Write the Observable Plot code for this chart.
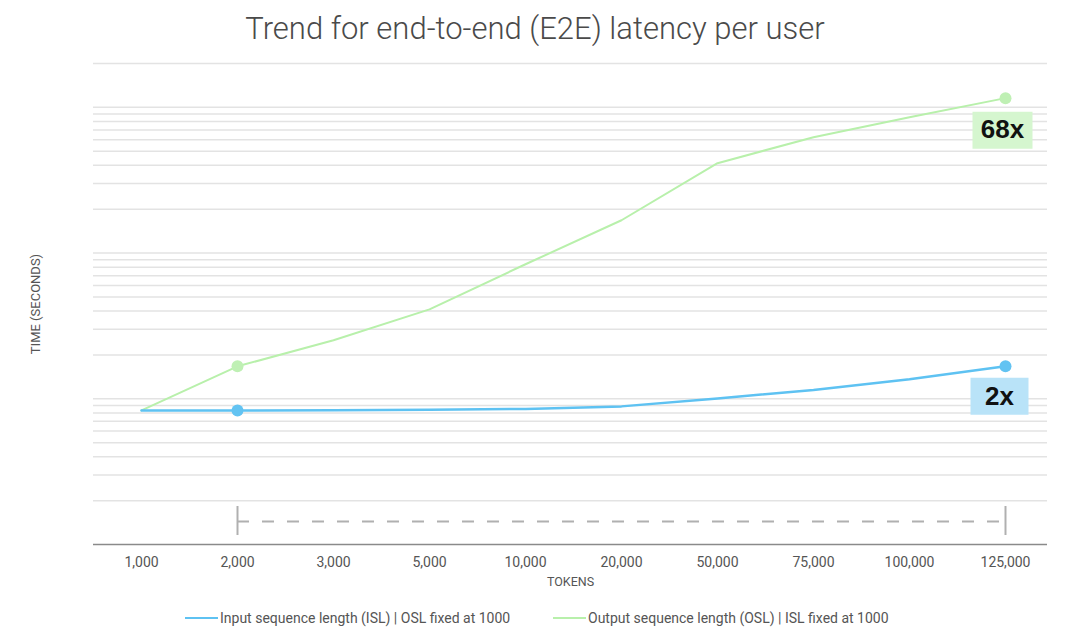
<!DOCTYPE html>
<html>
<head>
<meta charset="utf-8">
<script src="https://cdn.jsdelivr.net/npm/d3@7"></script>
<script src="https://cdn.jsdelivr.net/npm/@observablehq/plot@0.6"></script>
<style>
  html, body { margin: 0; padding: 0; background: #fff; }
  #wrap { position: relative; width: 1080px; height: 643px; overflow: hidden; font-family: Roboto, "Liberation Sans", sans-serif; }
  #title { position: absolute; top: 9px; left: 0; width: 1070px; text-align: center; font-size: 31px; font-weight: 300; color: #4a4a4a; line-height: 40px; }
  #chart { position: absolute; top: 52px; left: 0; }
  .leg { position: absolute; top: 610px; display: flex; align-items: center; font-size: 14px; color: #555; white-space: nowrap; }
  .sw { width: 33px; height: 2px; margin-right: 2px; }
</style>
</head>
<body>
<div id="wrap">
  <div id="title">Trend for end-to-end (E2E) latency per user</div>
  <div id="chart"></div>
  <div class="leg" style="left:185px"><span class="sw" style="background:#5ec2f2"></span><span id="leg1"></span></div>
  <div class="leg" style="left:553px"><span class="sw" style="background:#b8f0ab"></span><span id="leg2"></span></div>
</div>
<script>
// ---- data ----
const tokenLabels = ["1,000", "2,000", "3,000", "5,000", "10,000", "20,000", "50,000", "75,000", "100,000", "125,000"];
const islLatency = [8.32, 8.32, 8.35, 8.4, 8.52, 8.87, 10.06, 11.5, 13.6, 16.7];
const oslLatency = [8.32, 16.7, 25.2, 41.1, 83.8, 168, 414, 624, 856, 1157];
const seriesNames = ["Input sequence length (ISL) | OSL fixed at 1000", "Output sequence length (OSL) | ISL fixed at 1000"];
const markedTokens = ["2,000", "125,000"];
const ratioLabels = ["2x", "68x"];
const gridValues = [2, 3, 4, 5, 6, 7, 8, 9, 10, 20, 30, 40, 50, 60, 70, 80, 90, 100, 200, 300, 400, 500, 600, 700, 800, 900, 1000, 2000];
const axisTitleX = "TOKENS";
const axisTitleY = "TIME (SECONDS)";

const colors = { isl: "#5ec2f2", osl: "#b8f0ab", islDot: "#62c3f2", oslDot: "#bff0b4", islBox: "#b9e3f8", oslBox: "#d5f6cf" };

const isl = tokenLabels.map((t, i) => ({ tokens: t, value: islLatency[i] }));
const osl = tokenLabels.map((t, i) => ({ tokens: t, value: oslLatency[i] }));
const islMarked = isl.filter(d => markedTokens.includes(d.tokens));
const oslMarked = osl.filter(d => markedTokens.includes(d.tokens));
const islEnd = [{ ...isl[isl.length - 1], label: ratioLabels[0] }];
const oslEnd = [{ ...osl[osl.length - 1], label: ratioLabels[1] }];
const bracket = [{ from: markedTokens[0], to: markedTokens[1], base: 1 }];

document.getElementById("leg1").textContent = seriesNames[0];
document.getElementById("leg2").textContent = seriesNames[1];

function box(w, h) {
  return { draw(ctx) { ctx.moveTo(-w / 2, -h / 2); ctx.lineTo(w / 2, -h / 2); ctx.lineTo(w / 2, h / 2); ctx.lineTo(-w / 2, h / 2); ctx.closePath(); } };
}

const chart = Plot.plot({
  width: 1080,
  height: 545,
  marginTop: 11,
  marginBottom: 53,
  marginLeft: 93,
  marginRight: 33,
  style: { fontFamily: "Roboto, 'Liberation Sans', sans-serif", background: "#fff" },
  x: { type: "point", domain: tokenLabels, range: [140, 1006], padding: 0 },
  y: { type: "log", domain: [1, 2000] },
  marks: [
    Plot.ruleY(gridValues, { stroke: "#e3e3e3", strokeWidth: 1.5 }),
    Plot.ruleY([1], { stroke: "#8a8a8a", strokeWidth: 1.5 }),
    Plot.axisX({ tickSize: 0, tickPadding: 13, fontSize: 14, color: "#555", label: null }),
    Plot.axisY({ ticks: [], label: null }),
    Plot.text([axisTitleX], { frameAnchor: "bottom", dy: 41, fontSize: 12.5, fill: "#555", text: d => d }),
    Plot.text([axisTitleY], { frameAnchor: "left", textAnchor: "middle", dx: -58, rotate: -90, fontSize: 13, fill: "#555", text: d => d }),
    // bracket
    Plot.ruleY(bracket, { y: "base", x1: "from", x2: "to", dy: -23, stroke: "#b0b0b0", strokeWidth: 2, strokeDasharray: "12,13" }),
    Plot.ruleX(markedTokens, { insetTop: 443, insetBottom: 9, stroke: "#b0b0b0", strokeWidth: 2 }),
    // lines
    Plot.line(osl, { x: "tokens", y: "value", stroke: colors.osl, strokeWidth: 2 }),
    Plot.line(isl, { x: "tokens", y: "value", stroke: colors.isl, strokeWidth: 2.5 }),
    Plot.dot(oslMarked, { x: "tokens", y: "value", r: 6, fill: colors.oslDot }),
    Plot.dot(islMarked, { x: "tokens", y: "value", r: 6, fill: colors.islDot }),
    // ratio annotations
    Plot.dot(oslEnd, { x: "tokens", y: "value", dx: -3, dy: 32, r: 10, symbol: box(60, 37), fill: colors.oslBox }),
    Plot.dot(islEnd, { x: "tokens", y: "value", dx: -6, dy: 30, r: 10, symbol: box(58, 37), fill: colors.islBox }),
    Plot.text(oslEnd, { x: "tokens", y: "value", text: "label", dx: -3, dy: 32, fontSize: 26, fontWeight: "bold", fill: "#111", fontFamily: "'Liberation Sans', Arial, sans-serif" }),
    Plot.text(islEnd, { x: "tokens", y: "value", text: "label", dx: -6, dy: 30, fontSize: 26, fontWeight: "bold", fill: "#111", fontFamily: "'Liberation Sans', Arial, sans-serif" })
  ]
});
document.getElementById("chart").appendChild(chart);
</script>
</body>
</html>
